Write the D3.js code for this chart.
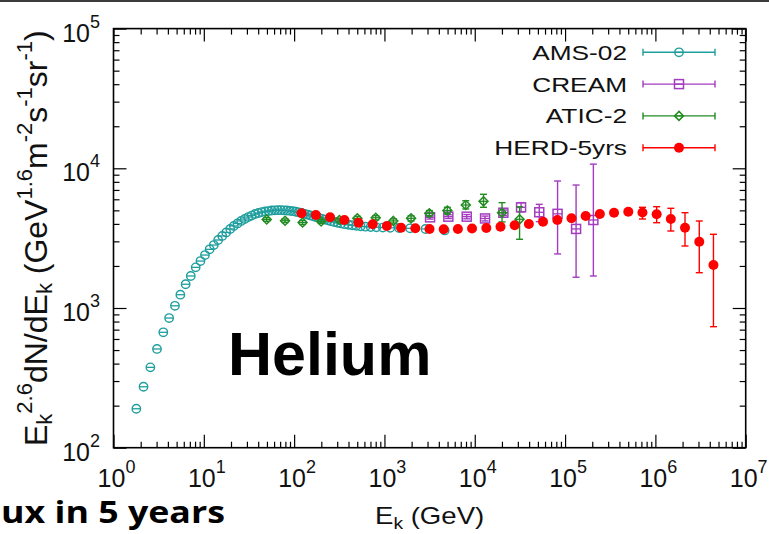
<!DOCTYPE html>
<html>
<head>
<meta charset="utf-8">
<script src="https://cdn.jsdelivr.net/npm/d3@7"></script>
<style>
body { margin: 0; background: #fff; }
svg { display: block; }
</style>
</head>
<body>
<div id="chart"></div>
<script>
// values
var amsE = [1.79,2.15,2.56,3.03,3.56,4.13,4.79,5.50,6.29,7.17,8.13,9.18,10.3,11.6,12.9,14.4,16.0,17.7,19.6,21.5,
	23.6,25.9,28.4,31.1,33.9,37.0,40.3,43.9,47.8,51.9,56.2,60.9,65.9,71.3,77.1,83.3,89.8,96.9,104.5,112.6,
	121.3,130.7,140.8,151.6,163,176,189,204,220,237,256,278,303,331,363,399,440,488,545,616,
	704,814,959,1158,1450,1924,2848,4644];
var amsF = [190,273,376,509,670,847,1037,1245,1479,1695,1954,2168,2393,2630,2823,3067,3281,3475,3678,3866,
	4028,4198,4336,4479,4590,4707,4785,4864,4909,4943,4988,5000,5011,5011,5000,4988,4955,4932,4887,4843,
	4785,4722,4666,4600,4530,4466,4407,4350,4296,4240,4182,4128,4074,4028,3981,3944,3910,3875,3845,3820,
	3800,3783,3766,3749,3737,3720,3678,3590];

var creamE  = [3200,5100,8150,13000,20740,32570,51800,82600,132400,205700];
var creamF  = [4457,4506,4506,4375,4808,5255,4844,4722,3681,4265];
var creamLo = [4330,4370,4350,4200,4600,4880,4150,2438,1660,1694];
var creamHi = [4590,4650,4670,4550,5030,5680,5521,8110,7590,10710];

var aticE  = [49.7,79.3,124,199,317,501,801,1255,1971,3141,4970,7950,12500,20050,31340];
var aticF  = [4298,4215,4093,4160,4265,4385,4426,4200,4385,4764,4988,5460,5801,4808,4313];
var aticLo = [4170,4090,3960,4030,4130,4240,4270,4050,4200,4550,4720,5115,5260,4130,3104];
var aticHi = [4430,4340,4230,4290,4400,4530,4580,4350,4570,4980,5260,5860,6517,5676,5300];

var herdE  = [121,174,250,360,516,741,1064,1528,2198,3155,4529,6503,9333,13430,19280,27670,39720,57020,82030,117800,
	169000,242700,348300,501200,719500,1033000,1483000,2128000,3062000,4395000];
var herdF  = [4764,4632,4459,4266,4078,3972,3864,3757,3720,3677,3665,3677,3707,3738,3819,3908,3993,4148,4266,4386,
	4557,4709,4811,4891,4826,4686,4336,3757,2978,2031];
var herdLo = [4740,4610,4440,4245,4058,3952,3845,3738,3700,3657,3645,3655,3685,3715,3795,3880,3965,4115,4230,4340,
	4500,4640,4720,4720,4336,4078,3558,2778,1789,735];
var herdHi = [4790,4655,4480,4287,4098,3992,3883,3776,3740,3697,3685,3700,3730,3760,3845,3935,4022,4180,4300,4430,
	4615,4780,4905,5100,5258,5311,5172,4811,4196,3370];

var xMajor = [1,10,100,1e3,1e4,1e5,1e6,1e7];
var xExp   = ["0","1","2","3","4","5","6","7"];
var yMajor = [100,1e3,1e4,1e5];
var yExp   = ["2","3","4","5"];
var legendNames = ["AMS-02","CREAM","ATIC-2","HERD-5yrs"];

var colAms = "#1f9e9e", colCream = "#a33cc0", colAtic = "#228b22", colHerd = "#ff0000";
var font = "'Liberation Sans', Arial, sans-serif";

var W = 769, H = 534;
var pL = 113.5, pR = 745.7, pT = 28.6, pB = 447.7;

var svg = d3.select("#chart").append("svg")
	.attr("width", W)
	.attr("height", H);

svg.append("rect").attr("x", 0).attr("y", 0).attr("width", W).attr("height", 2).attr("fill", "#3c3c3c");

var xScale = d3.scaleLog().domain([1, 1e7]).range([pL, pR]);
var yScale = d3.scaleLog().domain([100, 1e5]).range([pB, pT]);

var isMajor = function(v) { return Math.abs(Math.log10(v) - Math.round(Math.log10(v))) < 1e-9; };
var xMinor = xScale.ticks().filter(function(d) { return !isMajor(d); });
var yMinor = yScale.ticks().filter(function(d) { return !isMajor(d); });

function tickAxis(axis, vals, size, tr) {
	var g = svg.append("g")
		.attr("transform", tr)
		.call(axis.tickValues(vals).tickSize(size).tickFormat(""));
	g.select(".domain").remove();
	g.selectAll("line").attr("stroke", "#000").attr("stroke-width", 1.2);
}
// ticks point inwards on all four sides
tickAxis(d3.axisBottom(xScale), xMajor, -13, "translate(0," + pB + ")");
tickAxis(d3.axisBottom(xScale), xMinor, -6, "translate(0," + pB + ")");
tickAxis(d3.axisTop(xScale), xMajor, -13, "translate(0," + pT + ")");
tickAxis(d3.axisTop(xScale), xMinor, -6, "translate(0," + pT + ")");
tickAxis(d3.axisLeft(yScale), yMajor, -13, "translate(" + pL + ",0)");
tickAxis(d3.axisLeft(yScale), yMinor, -6, "translate(" + pL + ",0)");
tickAxis(d3.axisRight(yScale), yMajor, -13, "translate(" + pR + ",0)");
tickAxis(d3.axisRight(yScale), yMinor, -6, "translate(" + pR + ",0)");

svg.append("rect")
	.attr("x", pL).attr("y", pT)
	.attr("width", pR - pL).attr("height", pB - pT)
	.attr("fill", "none").attr("stroke", "#000").attr("stroke-width", 1.6);

// tick labels 10^n
xMajor.forEach(function(v, i) {
	var t = svg.append("text")
		.attr("x", xScale(v) + 3).attr("y", pB + 39)
		.attr("text-anchor", "middle")
		.attr("font-family", font).attr("font-size", 25).attr("fill", "#111")
		.text("10");
	t.append("tspan").attr("dy", -14).attr("font-size", 18).text(xExp[i]);
});
yMajor.forEach(function(v, i) {
	var t = svg.append("text")
		.attr("x", 100).attr("y", yScale(v) + 13)
		.attr("text-anchor", "end")
		.attr("font-family", font).attr("font-size", 25).attr("fill", "#111")
		.text("10");
	t.append("tspan").attr("dy", -14).attr("font-size", 18).text(yExp[i]);
});

// axis titles
var xt = svg.append("text")
	.attr("transform", "translate(" + ((pL + pR) / 2) + ",524) scale(1.2,1)")
	.attr("text-anchor", "middle")
	.attr("font-family", font).attr("font-size", 23).attr("fill", "#111")
	.text("E");
xt.append("tspan").attr("dy", 5).attr("font-size", 16).text("k");
xt.append("tspan").attr("dy", -5).text(" (GeV)");

var yt = svg.append("text")
	.attr("transform", "translate(47," + ((pT + pB) / 2) + ") rotate(-90)")
	.attr("text-anchor", "middle")
	.attr("font-family", font).attr("font-size", 32).attr("fill", "#111");
var yParts = [["E",0],["k",1],["2.6",-1],["dN/dE",0],["k",1],[" (GeV",0],["1.6",-1],["m",0],["-2",-1],["s",0],["-1",-1],["sr",0],["-1",-1],[")",0]];
var level = 0;
yParts.forEach(function(p) {
	var dy = 0;
	if (p[1] == 1 && level == 0) dy = 5;
	if (p[1] == -1 && level == 0) dy = -15;
	if (p[1] == -1 && level == 1) dy = -20;
	if (p[1] == 0 && level == 1) dy = -5;
	if (p[1] == 0 && level == -1) dy = 15;
	level = p[1];
	yt.append("tspan").attr("dy", dy).attr("font-size", p[1] == 0 ? 32 : 22).text(p[0]);
});

// marker shapes
function drawMarker(g, kind, cx, cy) {
	if (kind == 0) {
		g.append("line").attr("x1", cx - 4).attr("x2", cx + 4).attr("y1", cy).attr("y2", cy)
			.attr("stroke", colAms).attr("stroke-width", 1.3);
		g.append("circle").attr("cx", cx).attr("cy", cy).attr("r", 4.2)
			.attr("fill", "none").attr("stroke", colAms).attr("stroke-width", 1.4);
	} else if (kind == 1) {
		g.append("line").attr("x1", cx - 4.5).attr("x2", cx + 4.5).attr("y1", cy).attr("y2", cy)
			.attr("stroke", colCream).attr("stroke-width", 1.3);
		g.append("rect").attr("x", cx - 4.5).attr("y", cy - 4.5).attr("width", 9).attr("height", 9)
			.attr("fill", "none").attr("stroke", colCream).attr("stroke-width", 1.5);
	} else if (kind == 2) {
		g.append("line").attr("x1", cx - 4.5).attr("x2", cx + 4.5).attr("y1", cy).attr("y2", cy)
			.attr("stroke", colAtic).attr("stroke-width", 1.3);
		g.append("path").attr("d", "M" + cx + "," + (cy - 4.5) + "L" + (cx + 4.5) + "," + cy + "L" + cx + "," + (cy + 4.5) + "L" + (cx - 4.5) + "," + cy + "Z")
			.attr("fill", "none").attr("stroke", colAtic).attr("stroke-width", 1.5);
	} else {
		g.append("circle").attr("cx", cx).attr("cy", cy).attr("r", 5)
			.attr("fill", colHerd);
	}
}

function errBar(g, col, cx, lo, hi) {
	var y1 = yScale(lo), y2 = yScale(hi);
	g.append("line").attr("x1", cx).attr("x2", cx).attr("y1", y1).attr("y2", y2)
		.attr("stroke", col).attr("stroke-width", 1.4);
	[y1, y2].forEach(function(yy) {
		g.append("line").attr("x1", cx - 3.5).attr("x2", cx + 3.5).attr("y1", yy).attr("y2", yy)
			.attr("stroke", col).attr("stroke-width", 1.4);
	});
}

var gAms = svg.append("g");
amsE.forEach(function(e, i) { drawMarker(gAms, 0, xScale(e), yScale(amsF[i])); });

var gCream = svg.append("g");
creamE.forEach(function(e, i) {
	errBar(gCream, colCream, xScale(e), creamLo[i], creamHi[i]);
	drawMarker(gCream, 1, xScale(e), yScale(creamF[i]));
});

var gAtic = svg.append("g");
aticE.forEach(function(e, i) {
	errBar(gAtic, colAtic, xScale(e), aticLo[i], aticHi[i]);
	drawMarker(gAtic, 2, xScale(e), yScale(aticF[i]));
});

var gHerd = svg.append("g");
herdE.forEach(function(e, i) {
	errBar(gHerd, colHerd, xScale(e), herdLo[i], herdHi[i]);
	drawMarker(gHerd, 3, xScale(e), yScale(herdF[i]));
});

// legend
var legCols = [colAms, colCream, colAtic, colHerd];
var gLeg = svg.append("g");
legendNames.forEach(function(name, i) {
	var ly = 52.3 + i * 31.8;
	gLeg.append("text")
		.attr("transform", "translate(627," + (ly + 7.5) + ") scale(1.25,1)")
		.attr("text-anchor", "end")
		.attr("font-family", font).attr("font-size", 21).attr("fill", "#111")
		.text(name);
	gLeg.append("line").attr("x1", 643).attr("x2", 715).attr("y1", ly).attr("y2", ly)
		.attr("stroke", legCols[i]).attr("stroke-width", 1.4);
	[643, 715].forEach(function(xx) {
		gLeg.append("line").attr("x1", xx).attr("x2", xx).attr("y1", ly - 3.5).attr("y2", ly + 3.5)
			.attr("stroke", legCols[i]).attr("stroke-width", 1.4);
	});
	drawMarker(gLeg, i, 679, ly);
});

// slide text
svg.append("text")
	.attr("x", 228).attr("y", 375)
	.attr("font-family", font).attr("font-weight", "bold").attr("font-size", 61)
	.attr("fill", "#000")
	.text("Helium");

svg.append("text")
	.attr("x", 1).attr("y", 523)
	.attr("font-family", "'Open Sans', sans-serif").attr("font-weight", "bold").attr("font-size", 31)
	.attr("textLength", 224).attr("lengthAdjust", "spacingAndGlyphs")
	.attr("fill", "#000")
	.text("ux in 5 years");
</script>
</body>
</html>
